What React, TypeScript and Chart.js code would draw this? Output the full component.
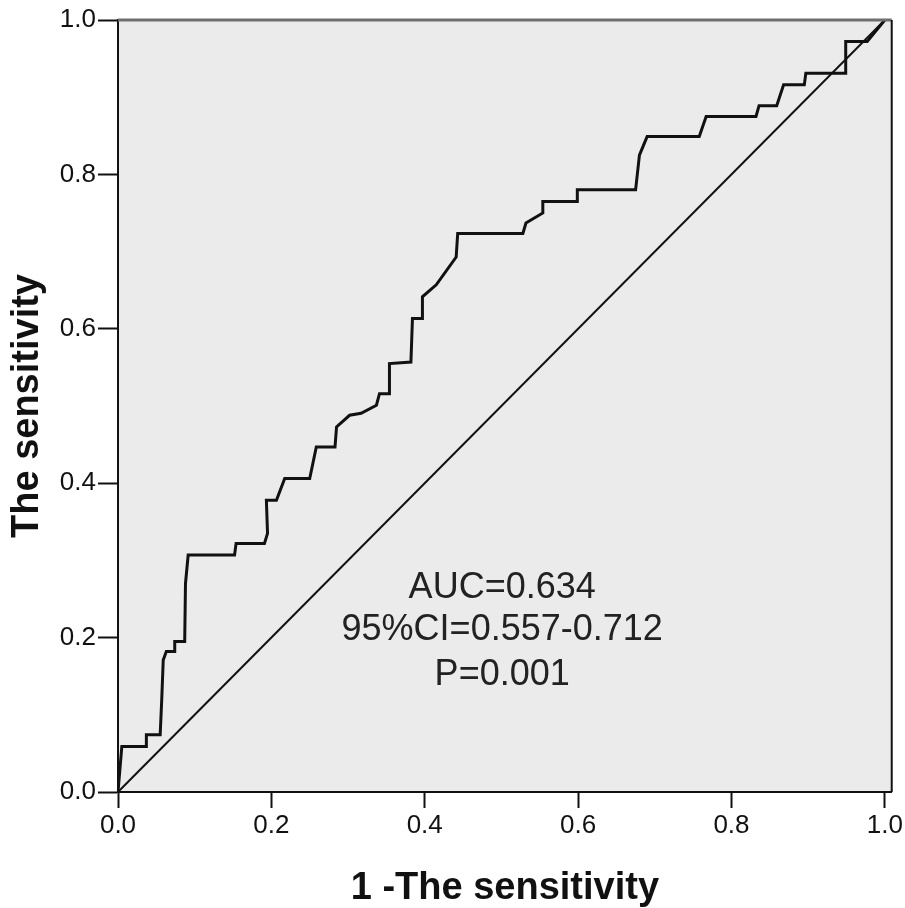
import React, { useEffect, useRef } from "react";
import { Chart, registerables } from "chart.js";

Chart.register(...registerables);

// ROC curve vertices (1 - specificity, sensitivity)
const rocFpr = [
  0, 0.005, 0.037, 0.037, 0.055, 0.057, 0.059, 0.063, 0.074, 0.074, 0.087, 0.088, 0.0915,
  0.152, 0.154, 0.191, 0.195, 0.1935, 0.2066, 0.2174, 0.25, 0.2586, 0.283, 0.285, 0.302,
  0.317, 0.337, 0.341, 0.354, 0.354, 0.382, 0.384, 0.397, 0.397, 0.415, 0.441, 0.443,
  0.528, 0.532, 0.554, 0.554, 0.599, 0.599, 0.675, 0.68, 0.69, 0.758, 0.767, 0.832,
  0.836, 0.859, 0.868, 0.895, 0.897, 0.949, 0.949, 0.977, 1,
];
const rocTpr = [
  0, 0.059, 0.059, 0.074, 0.074, 0.119, 0.171, 0.182, 0.182, 0.195, 0.195, 0.27, 0.307,
  0.307, 0.322, 0.322, 0.335, 0.378, 0.378, 0.406, 0.406, 0.447, 0.447, 0.473, 0.488,
  0.4905, 0.501, 0.516, 0.516, 0.555, 0.557, 0.6135, 0.6135, 0.6415, 0.657, 0.693, 0.7236,
  0.7236, 0.737, 0.75, 0.765, 0.765, 0.78, 0.78, 0.825, 0.849, 0.849, 0.875, 0.875,
  0.889, 0.889, 0.916, 0.916, 0.931, 0.931, 0.972, 0.972, 1,
];
const refX = [0, 1];
const refY = [0, 1];
const xTicks = [0, 0.2, 0.4, 0.6, 0.8, 1.0];
const yTicks = [0, 0.2, 0.4, 0.6, 0.8, 1.0];
const xTitle = "1 -The sensitivity";
const yTitle = "The sensitivity";
const annotationLines = ["AUC=0.634", "95%CI=0.557-0.712", "P=0.001"];
const annotationX = 0.501;
const annotationBaselines = [0.251, 0.197, 0.139];

const FONT = "'Liberation Sans', Arial, sans-serif";

const plotBackground = {
  id: "plotBackground",
  beforeDraw(chart: any) {
    const { ctx, chartArea: a } = chart;
    ctx.save();
    ctx.fillStyle = "#ebebeb";
    ctx.fillRect(a.left, a.top, a.right - a.left, a.bottom - a.top);
    ctx.restore();
  },
  afterDraw(chart: any) {
    const { ctx, chartArea: a } = chart;
    ctx.save();
    ctx.strokeStyle = "#6e6e6e";
    ctx.lineWidth = 3;
    ctx.beginPath();
    ctx.moveTo(a.left, a.top);
    ctx.lineTo(a.right, a.top);
    ctx.stroke();
    ctx.strokeStyle = "#111";
    ctx.lineWidth = 2;
    ctx.beginPath();
    ctx.moveTo(a.right, a.top);
    ctx.lineTo(a.right, a.bottom);
    ctx.stroke();
    ctx.restore();
  },
};

const annotationPlugin = {
  id: "annotationText",
  afterDatasetsDraw(chart: any) {
    const { ctx, scales } = chart;
    ctx.save();
    ctx.fillStyle = "#222";
    ctx.font = `36px ${FONT}`;
    ctx.textAlign = "center";
    ctx.textBaseline = "alphabetic";
    const x = scales.x.getPixelForValue(annotationX);
    annotationLines.forEach((t, i) => {
      ctx.fillText(t, x, scales.y.getPixelForValue(annotationBaselines[i]));
    });
    ctx.restore();
  },
};

export default function App() {
  const ref = useRef<HTMLCanvasElement | null>(null);
  useEffect(() => {
    if (!ref.current) return;
    const chart = new Chart(ref.current, {
      type: "scatter",
      data: {
        datasets: [
          {
            data: refX.map((x, i) => ({ x, y: refY[i] })),
            showLine: true,
            borderColor: "#111",
            borderWidth: 2,
            pointRadius: 0,
          },
          {
            data: rocFpr.map((x, i) => ({ x, y: rocTpr[i] })),
            showLine: true,
            borderColor: "#111",
            borderWidth: 3,
            pointRadius: 0,
          },
        ],
      },
      options: {
        responsive: false,
        animation: false,
        layout: { padding: { top: 20, right: 12, left: 0, bottom: 0 } },
        plugins: { legend: { display: false }, tooltip: { enabled: false } },
        scales: {
          x: {
            type: "linear",
            min: 0,
            max: 1.009,
            afterFit: (s: any) => {
              s.height = 116;
            },
            afterBuildTicks: (s: any) => {
              s.ticks = xTicks.map((v) => ({ value: v }));
            },
            grid: {
              drawOnChartArea: false,
              drawTicks: true,
              tickLength: 16,
              tickColor: "#111",
              tickWidth: 2,
            },
            border: { display: true, color: "#111", width: 2 },
            ticks: {
              padding: 2,
              color: "#111",
              font: { family: FONT, size: 26 },
              maxRotation: 0,
              callback: (v: any) => Number(v).toFixed(1),
            },
            title: {
              display: true,
              text: xTitle,
              color: "#111",
              font: { family: FONT, size: 38, weight: "bold", lineHeight: 1 },
              padding: { top: 0, bottom: 0 },
            },
          },
          y: {
            type: "linear",
            min: 0,
            max: 1,
            afterFit: (s: any) => {
              s.width = 118;
            },
            afterBuildTicks: (s: any) => {
              s.ticks = yTicks.map((v) => ({ value: v }));
            },
            grid: {
              drawOnChartArea: false,
              drawTicks: true,
              tickLength: 20,
              tickColor: "#111",
              tickWidth: 2,
            },
            border: { display: true, color: "#111", width: 2 },
            ticks: {
              padding: 2,
              color: "#111",
              font: { family: FONT, size: 26 },
              callback: (v: any) => Number(v).toFixed(1),
            },
            title: {
              display: true,
              text: yTitle,
              color: "#111",
              font: { family: FONT, size: 38, weight: "bold", lineHeight: 1 },
              padding: { top: 9, bottom: 0 },
            },
          },
        },
      },
      plugins: [plotBackground, annotationPlugin],
    });
    return () => chart.destroy();
  }, []);
  return (
    <div style={{ position: "absolute", left: 0, top: 0, width: 905, height: 908, background: "#fff" }}>
      <canvas ref={ref} width={905} height={908} style={{ width: 905, height: 908 }} />
    </div>
  );
}
